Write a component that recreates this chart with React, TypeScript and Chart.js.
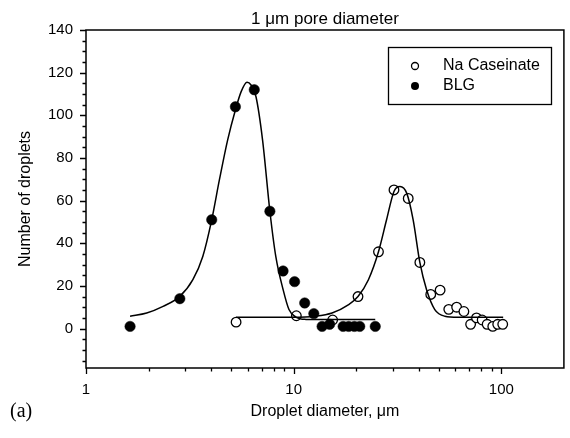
import React, { useEffect, useRef } from "react";
import { Chart, registerables } from "chart.js";

Chart.register(...registerables);

// Measured data
const blgX = [1.63, 2.83, 4.03, 5.24, 6.46, 7.68, 8.89, 10.1, 11.3, 12.5, 13.7, 14.9, 17.3, 18.4, 19.6, 20.8, 24.7];
const blgY = [1, 14, 51, 104, 112, 55, 27, 22, 12, 7, 1, 2, 1, 1, 1, 1, 1];

const naX = [5.28, 10.3, 15.4, 20.4, 25.6, 30.4, 35.6, 40.5, 45.7, 50.7, 55.8, 60.9, 66.0, 71.1, 75.9, 80.8, 85.4, 90.9, 96.0, 101.5];
const naY = [3, 6, 4, 15, 36, 65, 61, 31, 16, 18, 9, 10, 8, 2, 5, 4, 2, 1, 2, 2];

// Fitted curves
const blgFitX = [1.63, 1.96, 2.35, 2.83, 3.27, 3.65, 4.03, 4.39, 4.81, 5.24, 5.58, 5.96, 6.23, 6.58, 7.08, 7.68, 8.2, 8.89, 9.49, 10.2, 11.4, 13.2, 18, 24.7];
const blgFitY = [5.8, 7.3, 10.4, 15.1, 22.9, 33.8, 51, 69.8, 88.5, 102.5, 111, 115.5, 114.2, 108.8, 88.5, 55, 33.8, 18.3, 8.9, 5.5, 4.3, 4.2, 4.2, 4.2];

const naFitX = [5.28, 10, 12.7, 15.3, 18.4, 20.4, 22.9, 25.6, 28.0, 30.4, 32.5, 35.0, 37.6, 40.5, 43.6, 47.8, 53.4, 61.8, 80, 102];
const naFitY = [5.3, 5.3, 5.8, 7.3, 11.2, 15, 22.9, 36, 51, 64.3, 66.6, 63.5, 51, 31, 18.3, 8.9, 5.8, 5.3, 5.3, 5.3];

const xTickLabels = [1, 10, 100];
const yTickLabels = [0, 20, 40, 60, 80, 100, 120, 140];
const xMinorTicks = [2, 3, 4, 5, 6, 7, 8, 9, 20, 30, 40, 50, 60, 70, 80, 90];
const yMinorTicks = [-15, -10, -5, 5, 10, 15, 25, 30, 35, 45, 50, 55, 65, 70, 75, 85, 90, 95, 105, 110, 115, 125, 130, 135];

const titleText = "1 \u03bcm pore diameter";
const xTitle = "Droplet diameter, \u03bcm";
const yTitle = "Number of droplets";
const panelLabel = "(a)";
const legendLabels = ["Na Caseinate", "BLG"];

const FONT = "'Liberation Sans', Arial, sans-serif";

const toPts = (xs: number[], ys: number[]) => xs.map((x, i) => ({ x, y: ys[i] }));

const decorPlugin = {
  id: "decor",
  afterDraw(chart: any) {
    const { ctx, chartArea: a, scales } = chart;
    const xs = scales.x;
    const ys = scales.y;
    ctx.save();
    ctx.strokeStyle = "#000";
    ctx.fillStyle = "#000";
    // frame
    ctx.lineWidth = 1.5;
    ctx.strokeRect(a.left, a.top, a.right - a.left, a.bottom - a.top);
    // ticks
    ctx.lineWidth = 1.3;
    ctx.beginPath();
    for (const v of yTickLabels) {
      const p = Math.round(ys.getPixelForValue(v)) + 0.5;
      ctx.moveTo(a.left - 6, p);
      ctx.lineTo(a.left, p);
    }
    for (const v of yMinorTicks) {
      const p = Math.round(ys.getPixelForValue(v)) + 0.5;
      ctx.moveTo(a.left - 3.5, p);
      ctx.lineTo(a.left, p);
    }
    for (const v of xTickLabels) {
      const p = Math.round(xs.getPixelForValue(v)) + 0.5;
      ctx.moveTo(p, a.bottom);
      ctx.lineTo(p, a.bottom + 6);
    }
    for (const v of xMinorTicks) {
      const p = Math.round(xs.getPixelForValue(v)) + 0.5;
      ctx.moveTo(p, a.bottom);
      ctx.lineTo(p, a.bottom + 3.5);
    }
    ctx.stroke();

    // title
    ctx.textAlign = "center";
    ctx.textBaseline = "middle";
    ctx.font = `17px ${FONT}`;
    ctx.fillText(titleText, (a.left + a.right) / 2, 19);
    // x title
    ctx.font = `16px ${FONT}`;
    ctx.fillText(xTitle, (a.left + a.right) / 2, 412);
    // y title
    ctx.save();
    ctx.translate(26, (a.top + a.bottom) / 2);
    ctx.rotate(-Math.PI / 2);
    ctx.fillText(yTitle, 0, 0);
    ctx.restore();
    // panel label
    ctx.textAlign = "left";
    ctx.font = `20px 'Liberation Serif', 'Times New Roman', serif`;
    ctx.fillText(panelLabel, 10, 412);

    // legend
    ctx.lineWidth = 1.3;
    ctx.strokeRect(388.5, 47.5, 163, 57);
    ctx.font = `16px ${FONT}`;
    ctx.textAlign = "left";
    ctx.beginPath();
    ctx.arc(415, 66, 3.5, 0, Math.PI * 2);
    ctx.lineWidth = 1.3;
    ctx.stroke();
    ctx.fillText(legendLabels[0], 443, 66);
    ctx.beginPath();
    ctx.arc(415, 86, 4, 0, Math.PI * 2);
    ctx.fill();
    ctx.fillText(legendLabels[1], 443, 86);
    ctx.restore();
  },
};

export default function App() {
  const ref = useRef<HTMLCanvasElement>(null);
  useEffect(() => {
    document.body.style.margin = "0";
    const canvas = ref.current!;
    const chart = new Chart(canvas, {
      type: "scatter",
      data: {
        datasets: [
          {
            label: "BLG fit",
            data: toPts(blgFitX, blgFitY),
            showLine: true,
            borderColor: "#000",
            borderWidth: 1.5,
            pointRadius: 0,
            cubicInterpolationMode: "monotone",
            fill: false,
          },
          {
            label: "Na fit",
            data: toPts(naFitX, naFitY),
            showLine: true,
            borderColor: "#000",
            borderWidth: 1.5,
            pointRadius: 0,
            cubicInterpolationMode: "monotone",
            fill: false,
          },
          {
            label: legendLabels[1],
            data: toPts(blgX, blgY),
            pointRadius: 5.2,
            pointBackgroundColor: "#000",
            pointBorderColor: "#000",
            pointBorderWidth: 0.5,
          },
          {
            label: legendLabels[0],
            data: toPts(naX, naY),
            pointRadius: 4.8,
            pointBackgroundColor: "#fff",
            pointBorderColor: "#000",
            pointBorderWidth: 1.3,
          },
        ],
      },
      options: {
        responsive: false,
        animation: false,
        events: [],
        layout: { padding: { left: 0, top: 30, right: 3, bottom: 0 } },
        plugins: { legend: { display: false }, tooltip: { enabled: false }, title: { display: false } },
        scales: {
          x: {
            type: "logarithmic",
            min: 1,
            max: 200,
            grid: { display: false, drawTicks: false },
            border: { display: false },
            afterBuildTicks: (s: any) => {
              s.ticks = xTickLabels.map((v) => ({ value: v }));
            },
            afterFit: (s: any) => {
              s.height = 70;
            },
            ticks: {
              padding: 13,
              color: "#000",
              font: { family: FONT, size: 15 },
              maxRotation: 0,
              autoSkip: false,
              callback: (v: any) => String(v),
            },
          },
          y: {
            type: "linear",
            min: -18.5,
            max: 140,
            grid: { display: false, drawTicks: false },
            border: { display: false },
            afterBuildTicks: (s: any) => {
              s.ticks = yTickLabels.map((v) => ({ value: v }));
            },
            afterFit: (s: any) => {
              s.width = 86;
            },
            ticks: {
              padding: 13,
              color: "#000",
              font: { family: FONT, size: 15 },
              autoSkip: false,
              callback: (v: any) => String(v),
            },
          },
        },
      },
      plugins: [decorPlugin],
    } as any);
    return () => chart.destroy();
  }, []);
  return <canvas ref={ref} width={570} height={438} style={{ display: "block" }} />;
}
